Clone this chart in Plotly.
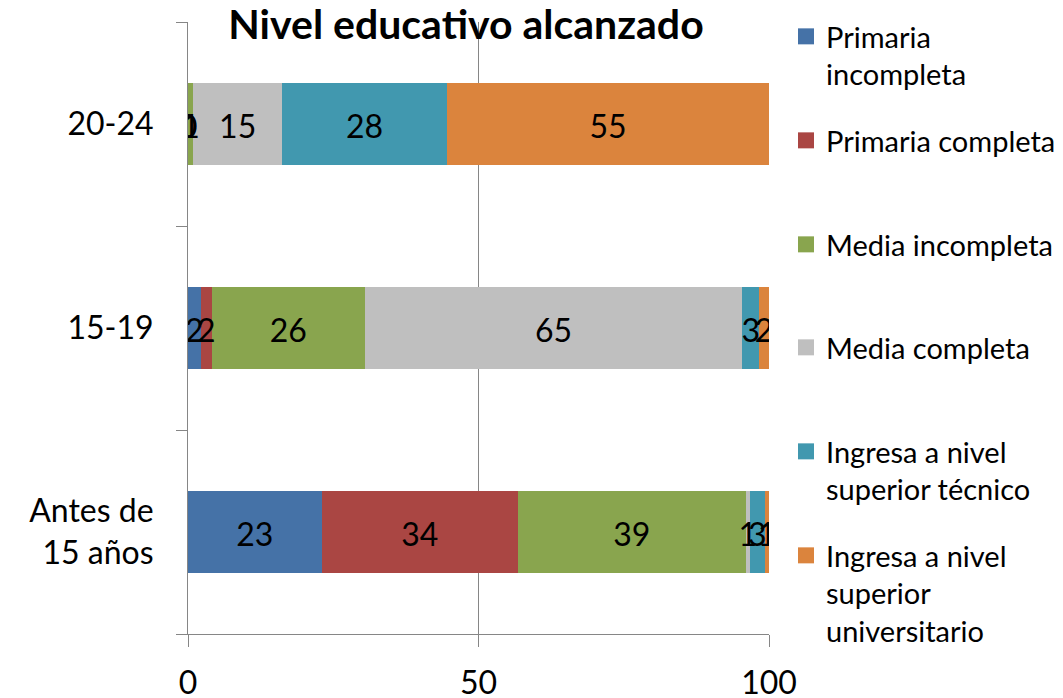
import plotly.graph_objects as go

categories = ["Antes de<br>15 años", "15-19", "20-24"]
series_names = [
    "Primaria<br>incompleta",
    "Primaria completa",
    "Media incompleta",
    "Media completa",
    "Ingresa a nivel<br>superior técnico",
    "Ingresa a nivel<br>superior<br>universitario",
]
primaria_incompleta = [23.0, 2.2, 0.0]
primaria_completa = [33.8, 1.9, 0.0]
media_incompleta = [39.2, 26.3, 0.9]
media_completa = [0.7, 65.0, 15.3]
superior_tecnico = [2.6, 2.9, 28.4]
superior_universitario = [0.7, 1.7, 55.4]
x_ticks = [0, 50, 100]

series_values = [primaria_incompleta, primaria_completa, media_incompleta,
                 media_completa, superior_tecnico, superior_universitario]
colors = ["#4572A7", "#AA4643", "#89A54E", "#BFBFBF", "#4198AF", "#DB843D"]
legend_tops = [11, 115, 219, 322, 426, 530]

FONT = "Lato, Carlito, Calibri, sans-serif"
fig = go.Figure()

# bars
for i, (name, vals, col) in enumerate(zip(series_names, series_values, colors)):
    fig.add_trace(go.Bar(
        x=vals, y=categories, orientation="h", name=name,
        marker=dict(color=col, line=dict(width=0)),
        showlegend=False, hoverinfo="x+name",
    ))

# data labels centred in each segment
lx, ly, lt = [], [], []
for ci, cat in enumerate(categories):
    cum = 0.0
    for vals in series_values:
        v = vals[ci]
        lx.append(cum + v / 2)
        ly.append(cat)
        lt.append(f"{v:.0f}")
        cum += v
fig.add_trace(go.Scatter(
    x=lx, y=ly, text=lt, mode="text", showlegend=False, hoverinfo="skip",
    yaxis="y2",
    textfont=dict(family=FONT, size=32, color="black"), textposition="middle center",
))

# legend entries (one legend per entry for Excel-like even spacing)
for i, (name, col) in enumerate(zip(series_names, colors)):
    key = "legend" if i == 0 else f"legend{i+1}"
    fig.add_trace(go.Scatter(
        x=[None], y=[None], mode="markers", name=name,
        marker=dict(color=col, symbol="square", size=16, line=dict(width=0)),
        legend=key, showlegend=True,
    ))
    fig.layout[key] = dict(
        x=786 / 1063, xref="container", xanchor="left",
        y=1 - legend_tops[i] / 698, yref="container", yanchor="top",
        font=dict(family=FONT, size=29, color="black"),
        bgcolor="rgba(0,0,0,0)", valign="top", itemwidth=30,
    )

fig.update_layout(
    width=1063, height=698,
    margin=dict(l=188, r=294, t=22, b=64, autoexpand=False),
    paper_bgcolor="white", plot_bgcolor="white",
    barmode="stack", bargap=0.6,
    font=dict(family=FONT, size=32, color="black"),
    title=dict(text="<b>Nivel educativo alcanzado</b>", x=466 / 1063, xref="container",
               xanchor="center", y=1 - 25 / 698, yref="container", yanchor="middle",
               font=dict(family=FONT, size=41, color="black")),
    xaxis=dict(range=[0, 100], tickvals=x_ticks, ticktext=[str(t) for t in x_ticks],
               showgrid=True, gridcolor="#868686", gridwidth=1,
               showline=True, linecolor="#868686", linewidth=1,
               ticks="outside", ticklen=12, tickcolor="#868686",
               zeroline=False, ticklabelstandoff=9,
               tickfont=dict(family=FONT, size=32)),
    yaxis=dict(categoryorder="array", categoryarray=categories,
               range=[-0.5, 2.5],
               showgrid=False, showline=True, linecolor="#868686", linewidth=1,
               ticks="outside", tickson="boundaries", ticklen=11, tickcolor="#868686",
               zeroline=False, ticklabelstandoff=27,
               tickfont=dict(family=FONT, size=32)),
    # label layer: same categories, nudged so digits sit visually centred in bars
    yaxis2=dict(overlaying="y", categoryorder="array", categoryarray=categories,
                range=[-0.47, 2.53], visible=False, showgrid=False, zeroline=False),
)

fig.write_html("out.html", config={"displayModeBar": False},
               post_script="document.body.style.margin='0px';")
